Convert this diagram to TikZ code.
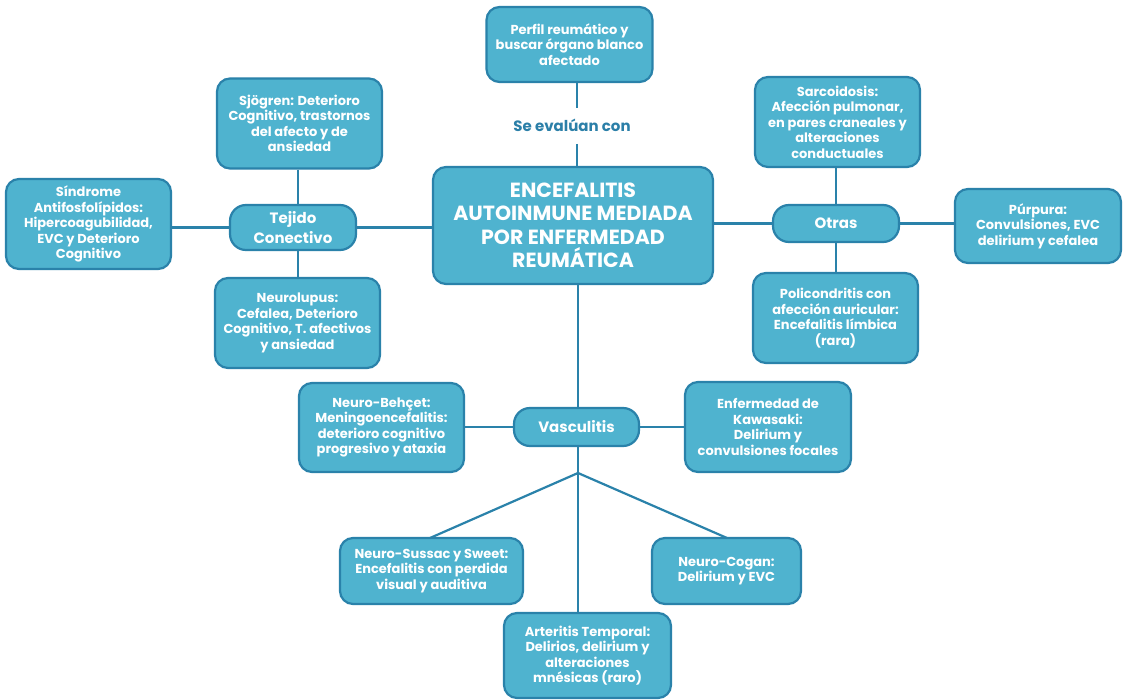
\documentclass[tikz,border=0pt]{standalone}
\usepackage{fontspec}
\setmainfont{Poppins}
\definecolor{fl}{HTML}{4FB3CF}
\definecolor{bd}{HTML}{2A82AA}
\definecolor{tx}{HTML}{2B7FA8}
\begin{document}
\begin{tikzpicture}[x=1pt,y=-1pt,
  box/.style={draw=bd, fill=fl, line width=2.2pt, rounded corners=13pt, text=white,
    font=\fontsize{13}{15.5}\selectfont\bfseries, align=center, inner sep=0pt},
  pill/.style={box, rounded corners=16pt, font=\fontsize{15}{19.5}\selectfont\bfseries},
  link/.style={draw=bd, line width=2.2pt}]
\useasboundingbox (0,0) rectangle (1132,700);
\fill[white] (0,0) rectangle (1132,700);
% nodes
\node[box, minimum width=166pt, minimum height=75pt] (perfil) at (569.5,44.5) {Perfil reumático y\\buscar órgano blanco\\afectado};
\node[text=tx, font=\fontsize{15}{17}\selectfont\bfseries, inner sep=0pt] (eval) at (572,125) {Se evalúan con};
\node[box, minimum width=280pt, minimum height=117pt, font=\fontsize{20.5}{23.5}\selectfont\bfseries] (main) at (573,225.5) {ENCEFALITIS\\AUTOINMUNE MEDIADA\\POR ENFERMEDAD\\REUMÁTICA};
\node[box, minimum width=165pt, minimum height=90pt] (sjo) at (299.5,123.5) {Sjögren: Deterioro\\Cognitivo, trastornos\\del afecto y de\\ansiedad};
\node[pill, minimum width=126pt, minimum height=45pt] (tej) at (293,227.5) {Tejido\\Conectivo};
\node[box, minimum width=165pt, minimum height=90pt] (sin) at (88.5,224) {Síndrome\\Antifosfolípidos:\\Hipercoagubilidad,\\EVC y Deterioro\\Cognitivo};
\node[box, minimum width=165pt, minimum height=90pt] (lup) at (297.5,323) {Neurolupus:\\Cefalea, Deterioro\\Cognitivo, T. afectivos\\y ansiedad};
\node[box, minimum width=165pt, minimum height=90pt] (sar) at (837.5,122) {Sarcoidosis:\\Afección pulmonar,\\en pares craneales y\\alteraciones\\conductuales};
\node[pill, minimum width=126pt, minimum height=37pt] (otr) at (836,223.5) {Otras};
\node[box, minimum width=166pt, minimum height=74pt] (pur) at (1038,226) {Púrpura:\\Convulsiones, EVC\\delirium y cefalea};
\node[box, minimum width=165pt, minimum height=90pt] (pol) at (835.5,318) {Policondritis con\\afección auricular:\\Encefalitis límbica\\(rara)};
\node[pill, minimum width=125pt, minimum height=38pt] (vas) at (576.5,427) {Vasculitis};
\node[box, minimum width=165pt, minimum height=89pt] (beh) at (381.5,427.5) {Neuro-Behçet:\\Meningoencefalitis:\\deterioro cognitivo\\progresivo y ataxia};
\node[box, minimum width=166pt, minimum height=90pt] (kaw) at (768,427) {Enfermedad de\\Kawasaki:\\Delirium y\\convulsiones focales};
\coordinate (br) at (578,473);
\node[box, minimum width=183pt, minimum height=66pt] (sus) at (431.5,571) {Neuro-Sussac y Sweet:\\Encefalitis con perdida\\visual y auditiva};
\node[box, minimum width=149pt, minimum height=66pt] (cog) at (726.5,571) {Neuro-Cogan:\\Delirium y EVC};
\node[box, minimum width=167pt, minimum height=85pt] (art) at (587.5,655.5) {Arteritis Temporal:\\Delirios, delirium y\\alteraciones\\mnésicas (raro)};
% connectors
\draw[link] (perfil.south -| 577,0) -- (577,108);
\draw[link] (577,144) -- (main.north -| 577,0);
\draw[link] (tej.east) -- (tej.east -| main.west);
\draw[link] (sin.east |- tej.west) -- (tej.west);
\draw[link] (sjo.south -| 298,0) -- (tej.north -| 298,0);
\draw[link] (tej.south -| 298,0) -- (lup.north -| 298,0);
\draw[link] (main.east |- otr.west) -- (otr.west);
\draw[link] (otr.east) -- (pur.west |- otr.east);
\draw[link] (sar.south -| 836,0) -- (otr.north -| 836,0);
\draw[link] (otr.south -| 836,0) -- (pol.north -| 836,0);
\draw[link] (main.south -| 578,0) -- (vas.north -| 578,0);
\draw[link] (beh.east |- vas.west) -- (vas.west);
\draw[link] (vas.east) -- (kaw.west |- vas.east);
\draw[link] (vas.south -| 578,0) -- (br);
\draw[link] (br) -- (430,538);
\draw[link] (br) -- (727,538);
\draw[link] (br) -- (art.north -| 578,0);
\end{tikzpicture}
\end{document}
